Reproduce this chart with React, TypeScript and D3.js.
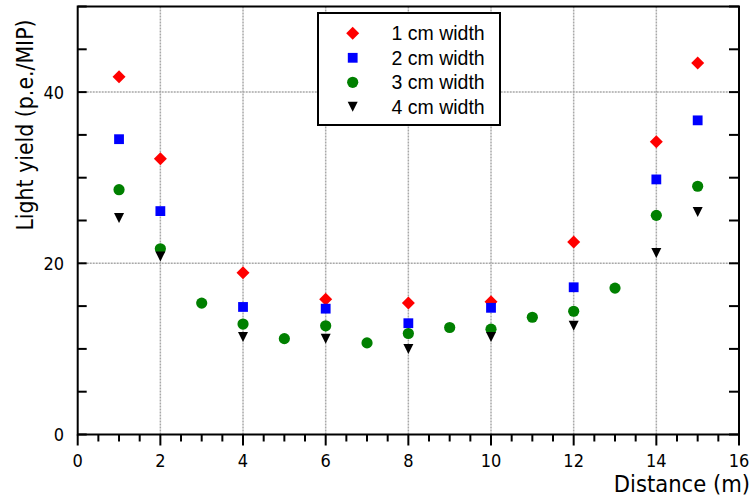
import React from "react";
import * as d3 from "d3";

const distances1 = [1, 2, 4, 6, 8, 10, 12, 14, 15];
const yield1cm = [41.8, 32.2, 18.9, 15.8, 15.35, 15.5, 22.5, 34.2, 43.4];
const distances2 = [1, 2, 4, 6, 8, 10, 12, 14, 15];
const yield2cm = [34.5, 26.1, 14.9, 14.7, 13.0, 14.8, 17.2, 29.8, 36.7];
const distances3 = [1, 2, 3, 4, 5, 6, 7, 8, 9, 10, 11, 12, 13, 14, 15];
const yield3cm = [28.6, 21.7, 15.35, 12.9, 11.2, 12.7, 10.7, 11.8, 12.5, 12.3, 13.7, 14.4, 17.1, 25.6, 29.0];
const distances4 = [1, 2, 4, 6, 8, 10, 12, 14, 15];
const yield4cm = [25.3, 20.8, 11.4, 11.2, 10.0, 11.4, 12.7, 21.2, 26.0];

const legendLabels = ["1 cm width", "2 cm width", "3 cm width", "4 cm width"];
const xTickLabels = [0, 2, 4, 6, 8, 10, 12, 14, 16];
const yTickLabels = [0, 20, 40];
const xTitle = "Distance (m)";
const yTitle = "Light yield (p.e./MIP)";

const W = 752;
const H = 500;
const left = 77.7;
const right = 739;
const top = 6.5;
const bottom = 434.5;

const tickFont = "'DejaVu Sans Condensed', 'DejaVu Sans', sans-serif";

const diamond = "M0,-6.5L6.5,0L0,6.5L-6.5,0Z";
const square = "M-4.9,-4.9H4.9V4.9H-4.9Z";
const triangle = "M-5,-5L5,-5L0,5Z";

function Marker({ kind, x, y }: { kind: number; x: number; y: number }) {
  if (kind === 0) return <path d={diamond} transform={`translate(${x},${y})`} fill="#ff0000" />;
  if (kind === 1) return <path d={square} transform={`translate(${x},${y})`} fill="#0000ff" />;
  if (kind === 2) return <circle cx={x} cy={y} r={5.6} fill="#008000" />;
  return <path d={triangle} transform={`translate(${x},${y})`} fill="#000000" />;
}

export default function App() {
  const x = d3.scaleLinear().domain([0, 16]).range([left, right]);
  const y = d3.scaleLinear().domain([0, 50]).range([bottom, top]);

  const series = [
    { xs: distances1, ys: yield1cm },
    { xs: distances2, ys: yield2cm },
    { xs: distances3, ys: yield3cm },
    { xs: distances4, ys: yield4cm },
  ];

  const gridX = d3.range(2, 16, 2);
  const gridY = [20, 40];
  const yTicks = d3.range(0, 51, 5);
  const xMinor = d3.range(0, 16.01, 0.5);

  const legX = 318;
  const legY = 13;
  const legW = 182;
  const legH = 112;

  return (
    <svg width={W} height={H} style={{ position: "absolute", left: 0, top: 0 }} xmlns="http://www.w3.org/2000/svg">
      <rect x={0} y={0} width={W} height={H} fill="#ffffff" />
      {gridX.map((v) => (
        <line key={"gx" + v} x1={x(v)} x2={x(v)} y1={top} y2={bottom} stroke="#a8a8a8" strokeWidth={1.5} strokeDasharray="2,1" />
      ))}
      {gridY.map((v) => (
        <line key={"gy" + v} x1={left} x2={right} y1={y(v)} y2={y(v)} stroke="#a8a8a8" strokeWidth={1.5} strokeDasharray="2,1" />
      ))}
      {yTicks.map((v) => (
        <g key={"yt" + v}>
          <line x1={left} x2={left + 9} y1={y(v)} y2={y(v)} stroke="#000" strokeWidth={2} />
          <line x1={right} x2={right - 10} y1={y(v)} y2={y(v)} stroke="#000" strokeWidth={2} />
        </g>
      ))}
      {xMinor.map((v) => (
        <line
          key={"xt" + v}
          x1={x(v)}
          x2={x(v)}
          y1={bottom}
          y2={bottom + (v % 2 === 0 ? 11 : 7)}
          stroke="#000"
          strokeWidth={2}
        />
      ))}
      <rect x={left} y={top} width={right - left} height={bottom - top} fill="none" stroke="#000" strokeWidth={2} />
      {xTickLabels.map((v) => (
        <text key={"xl" + v} x={x(v)} y={467} textAnchor="middle" fontFamily={tickFont} fontStretch="condensed" fontSize={18} fill="#000">
          {v}
        </text>
      ))}
      {yTickLabels.map((v) => (
        <text key={"yl" + v} x={64} y={y(v) + 6.5} textAnchor="end" fontFamily={tickFont} fontStretch="condensed" fontSize={18} fill="#000">
          {v}
        </text>
      ))}
      <text x={750} y={492} textAnchor="end" fontFamily={tickFont} fontStretch="condensed" fontSize={23.5} fill="#000">
        {xTitle}
      </text>
      <text
        transform={`translate(32.5,125) rotate(-90)`}
        textAnchor="middle"
        fontFamily={tickFont}
        fontStretch="condensed"
        fontSize={22.8}
        fill="#000"
      >
        {yTitle}
      </text>
      {series.map((s, i) => (
        <g key={"s" + i}>
          {s.xs.map((d, j) => (
            <Marker key={j} kind={i} x={x(d)} y={y(s.ys[j])} />
          ))}
        </g>
      ))}
      <rect x={legX} y={legY} width={legW} height={legH} fill="#ffffff" stroke="#000" strokeWidth={2} />
      {legendLabels.map((lab, i) => {
        const cy = 33.3 + i * 24.5;
        return (
          <g key={"lg" + i}>
            <Marker kind={i} x={352.7} y={cy} />
            <text x={391.5} y={cy + 7} fontFamily="'Liberation Sans', Arial, sans-serif" fontSize={19.5} fill="#000">
              {lab}
            </text>
          </g>
        );
      })}
    </svg>
  );
}
